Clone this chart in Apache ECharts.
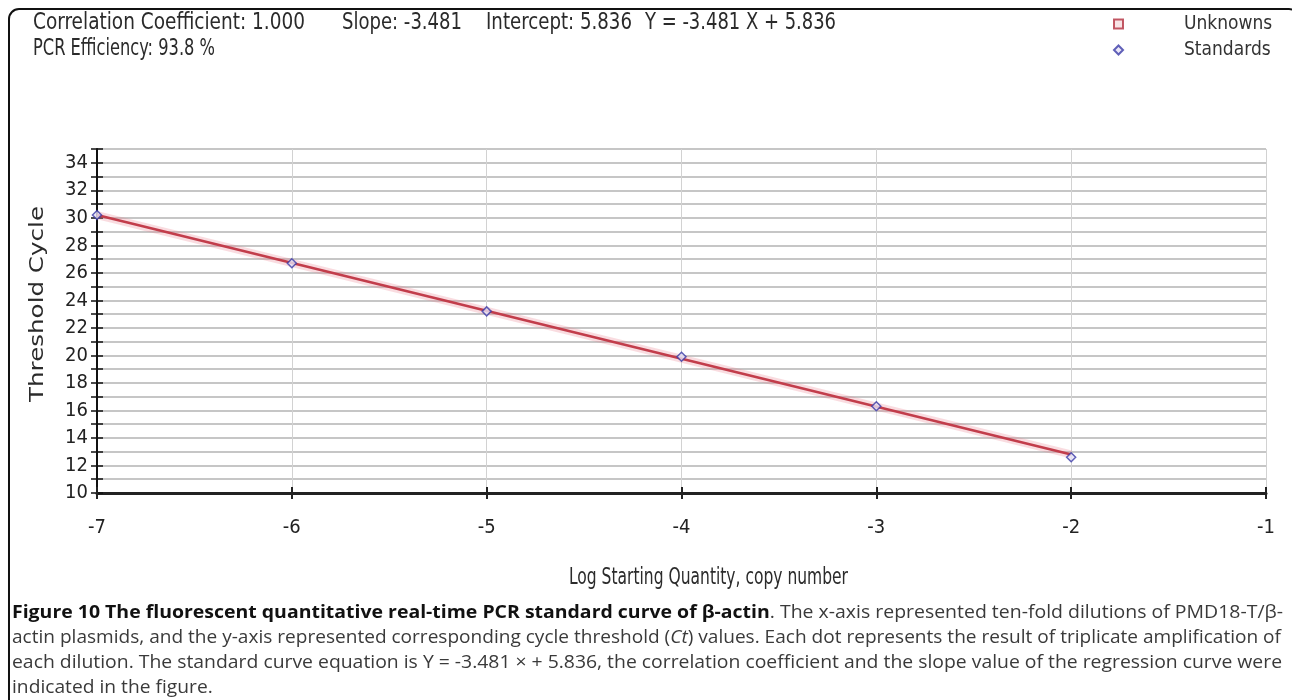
<!DOCTYPE html>
<html><head><meta charset="utf-8">
<script src="https://cdn.jsdelivr.net/npm/echarts@6/dist/echarts.min.js"></script>
<style>html,body{margin:0;padding:0;background:#fff}#c{width:1292px;height:700px}</style>
</head><body><div id="c"></div>
<script>
// ---------- data ----------
const xTicks = [-7, -6, -5, -4, -3, -2, -1];
const yRange = [10, 35];
const stdLogQty = [-7, -6, -5, -4, -3, -2];
const stdCt = [30.2, 26.7, 23.2, 19.9, 16.3, 12.6];
const fitLogQty = [-7, -2];
const fitCt = [30.2, 12.8];
const unknownsData = [];
const legendNames = ['Unknowns', 'Standards'];
const statsLine1 = ['Correlation Coefficient: 1.000', 'Slope: -3.481', 'Intercept: 5.836', 'Y = -3.481 X + 5.836'];
const statsLine2 = 'PCR Efficiency: 93.8 %';
const yTitle = 'Threshold Cycle';
const xTitle = 'Log Starting Quantity, copy number';
const captionBold = 'Figure 10 The fluorescent quantitative real-time PCR standard curve of β-actin';
const captionLine1 = '. The x-axis represented ten-fold dilutions of PMD18-T/β-';
const captionLine2 = ['actin plasmids, and the y-axis represented corresponding cycle threshold (', 'Ct', ') values. Each dot represents the result of triplicate amplification of'];
const captionLine3 = 'each dilution. The standard curve equation is Y = -3.481 × + 5.836, the correlation coefficient and the slope value of the regression curve were';
const captionLine4 = 'indicated in the figure.';

// ---------- helpers ----------
const ctx = document.createElement('canvas').getContext('2d');
function measure(text, size, family, weight, style) {
  ctx.font = (style || 'normal') + ' ' + (weight || 'normal') + ' ' + size + 'px ' + family;
  return ctx.measureText(text).width;
}
const TF = 'DejaVu Sans Condensed', TS = 16, TSY = 1.45;
function txtEl(text, x, yc, sx, align) {
  return {
    type: 'text', x: x, y: yc, scaleX: sx, scaleY: TSY, z: 10,
    style: { text: text, fontSize: TS, fontFamily: TF, fill: '#2b2b2b', align: align || 'left', verticalAlign: 'middle' }
  };
}
function fitScale(text, x0, x1) { return (x1 - x0) / measure(text, TS, TF); }
const statScale = fitScale(statsLine1[0], 33, 305);

const CF = 'Open Sans', CS = 17;
// segs: [[text, weight, style, color]]; uniform horizontal scale so the line fills x0..x1
function lineEls(segs, x0, x1, yc, fixedScale) {
  const ws = segs.map(function (s) { return measure(s[0], CS, CF, s[1], s[2]); });
  const total = ws.reduce(function (a, b) { return a + b; }, 0);
  const sc = fixedScale || (x1 - x0) / total;
  let cur = x0;
  const els = segs.map(function (s, i) {
    const el = {
      type: 'text', x: cur, y: yc, scaleX: sc, scaleY: 1.08, z: 10,
      style: { text: s[0], fontSize: CS, fontFamily: CF, fontWeight: s[1], fontStyle: s[2], fill: s[3], align: 'left', verticalAlign: 'middle' }
    };
    cur += ws[i] * sc;
    return el;
  });
  els.scale = sc;
  return els;
}
const CN = '#3a3a3a';

let graphics = [
  { type: 'rect', shape: { x: 9, y: 9, width: 1290, height: 760, r: 10 }, style: { fill: 'none', stroke: '#111', lineWidth: 2 }, z: 1 },
  txtEl(statsLine1[0], 33, 23, statScale),
  txtEl(statsLine1[1], 342, 23, fitScale(statsLine1[1], 342, 462)),
  txtEl(statsLine1[2], 486, 23, fitScale(statsLine1[2], 486, 632)),
  txtEl(statsLine1[3], 645, 23, fitScale(statsLine1[3], 645, 836)),
  txtEl(statsLine2, 33, 49, fitScale(statsLine2, 33, 215)),
  txtEl(xTitle, 569, 578, fitScale(xTitle, 569, 848)),
  (function () {
    const w = measure(yTitle, 20, 'DejaVu Sans');
    return { type: 'text', x: 38, y: 304, rotation: Math.PI / 2, scaleX: 196 / w, z: 10,
      style: { text: yTitle, fontSize: 20, fontFamily: 'DejaVu Sans', fill: '#2b2b2b', align: 'center', verticalAlign: 'middle' } };
  })()
];
const l1 = lineEls([[captionBold, 'bold', 'normal', '#111'], [captionLine1, 'normal', 'normal', CN]], 12, 1283, 613);
const l2 = lineEls([[captionLine2[0], 'normal', 'normal', CN], [captionLine2[1], 'normal', 'italic', CN], [captionLine2[2], 'normal', 'normal', CN]], 12, 1281, 638);
const l3 = lineEls([[captionLine3, 'normal', 'normal', CN]], 12, 1282, 663);
const l4 = lineEls([[captionLine4, 'normal', 'normal', CN]], 12, 0, 688, (l2.scale + l3.scale) / 2);
graphics = graphics.concat(l1, l2, l3, l4);

const axisFont = { fontFamily: TF, fontSize: 20, color: '#222' };
const option = {
  animation: false,
  backgroundColor: '#fff',
  grid: { left: 97, right: 26, top: 149, bottom: 207 },
  legend: {
    data: legendNames, orient: 'vertical', left: 1108, top: 9,
    itemWidth: 9, itemHeight: 9, itemGap: 6, selectedMode: false,
    textStyle: { fontFamily: TF, fontSize: 19, color: '#333', lineHeight: 20, padding: [0, 0, 0, 56] }
  },
  xAxis: [
    {
      type: 'value', min: xTicks[0], max: xTicks[xTicks.length - 1], interval: 1, position: 'bottom',
      axisLine: { lineStyle: { color: '#222', width: 3 } },
      axisTick: { length: 6, lineStyle: { color: '#222', width: 2 } },
      axisLabel: Object.assign({ margin: 25 }, axisFont),
      splitLine: { show: true, lineStyle: { color: '#d2d2d2', width: 1 } }
    },
    {
      type: 'value', min: xTicks[0], max: xTicks[xTicks.length - 1], interval: 1, position: 'bottom',
      axisLine: { show: false },
      axisTick: { inside: true, length: 6, lineStyle: { color: '#222', width: 2 } },
      axisLabel: { show: false }, splitLine: { show: false }
    }
  ],
  yAxis: [
    {
      type: 'value', min: yRange[0], max: yRange[1], interval: 1, position: 'left',
      axisLine: { lineStyle: { color: '#111', width: 2 } },
      axisTick: { length: 6, lineStyle: { color: '#111', width: 1.5 } },
      axisLabel: Object.assign({ margin: 9, formatter: function (v) { return v % 2 === 0 ? String(v) : ''; } }, axisFont),
      splitLine: { show: true, lineStyle: { color: '#c6c6c6', width: 2 } }
    },
    {
      type: 'value', min: yRange[0], max: yRange[1], interval: 1, position: 'left',
      axisLine: { show: false },
      axisTick: { inside: true, length: 6, lineStyle: { color: '#111', width: 1.5 } },
      axisLabel: { show: false }, splitLine: { show: false }
    }
  ],
  series: [
    {
      name: 'fitHalo', type: 'line', symbol: 'none', silent: true, z: 2,
      data: fitLogQty.map(function (x, i) { return [x, fitCt[i]]; }),
      lineStyle: { color: 'rgba(235,130,145,0.28)', width: 8 }
    },
    {
      name: 'fit', type: 'line', symbol: 'none', silent: true, z: 3,
      data: fitLogQty.map(function (x, i) { return [x, fitCt[i]]; }),
      lineStyle: { color: '#c23d4b', width: 2.5 }
    },
    {
      name: 'Unknowns', type: 'scatter', symbol: 'rect', symbolSize: 8, z: 4,
      data: unknownsData,
      itemStyle: { color: '#f6dde0', borderColor: '#b3303e', borderWidth: 2 }
    },
    {
      name: 'Standards', type: 'scatter', symbol: 'diamond', symbolSize: 9, z: 5,
      data: stdLogQty.map(function (x, i) { return [x, stdCt[i]]; }),
      itemStyle: { color: '#e6e2f6', borderColor: '#3a3aa6', borderWidth: 1.5 }
    }
  ],
  graphic: graphics
};
const chart = echarts.init(document.getElementById('c'), null, { renderer: 'canvas' });
chart.setOption(option);
</script>
</body></html>
